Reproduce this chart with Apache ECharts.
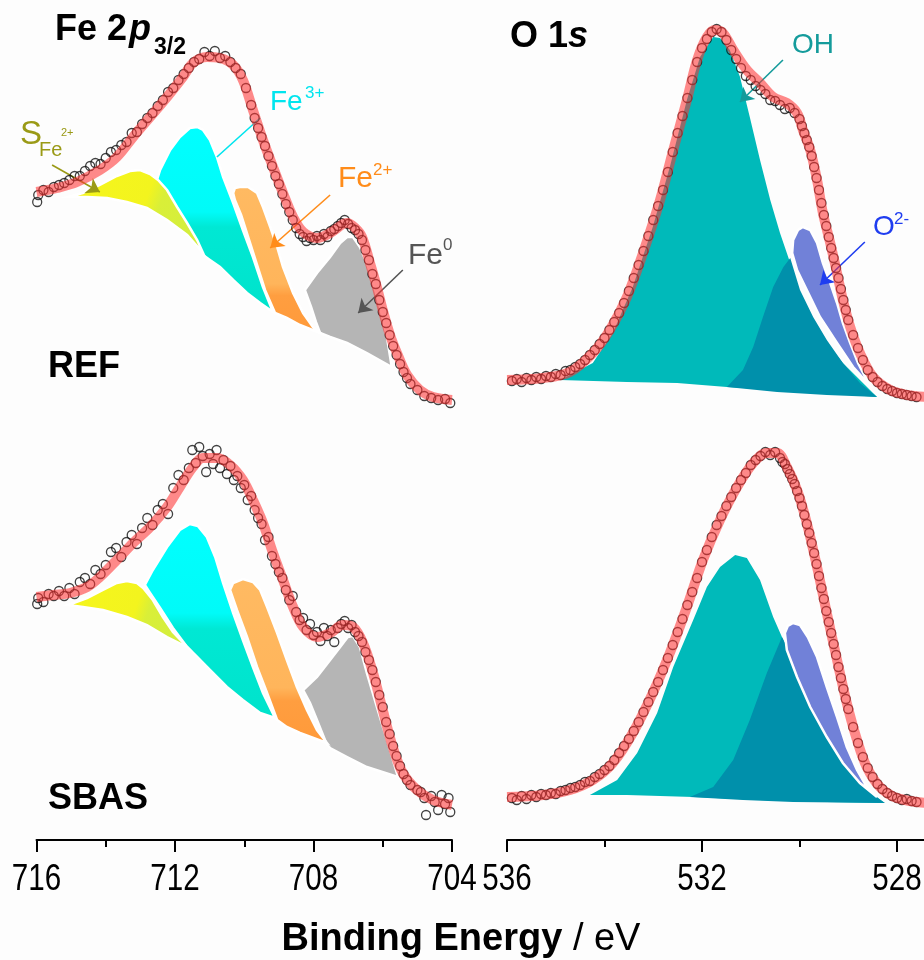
<!DOCTYPE html>
<html><head><meta charset="utf-8">
<script src="https://cdn.jsdelivr.net/npm/echarts@6/dist/echarts.min.js"></script>
<style>html,body{margin:0;padding:0;background:#fdfdfd}#c{width:924px;height:960px}</style>
</head><body><div id="c"></div>
<script>
// ---------- axes ----------
const feRange = [704, 716];      // Fe 2p binding energy range (eV)
const oRange = [524, 536];       // O 1s binding energy range (eV)
const tickStep = 4;
const feTickLabels = [716, 712, 708, 704];
const oTickLabels = [536, 532, 528];

// ---------- Fe 2p3/2, REF ----------
const feRefFit = [[716.0,648],[715.41,652],[714.83,658],[714.17,670],[713.68,683],[713.21,703],[712.72,723],[712.23,743],[711.77,763],[711.48,777],[711.08,783],[710.70,782],[710.32,775],[710.04,760],[709.75,730],[709.46,700],[709.17,673],[708.88,647],[708.59,623],[708.30,608],[707.90,602],[707.52,607],[707.15,616],[707.03,617],[706.80,612],[706.60,603],[706.37,577],[706.17,553],[706.0,530],[705.79,505],[705.59,487],[705.30,465],[704.93,450],[704.55,443],[704.0,440]];
const feRefData = [[715.98,638],[715.95,645],[715.8,650],[715.65,648],[715.5,653],[715.35,655],[715.2,657],[715.05,660],[714.9,664],[714.75,664],[714.6,669],[714.45,674],[714.3,677],[714.15,676],[714.0,682],[713.85,688],[713.7,690],[713.55,695],[713.4,698],[713.25,707],[713.1,708],[712.95,716],[712.8,722],[712.65,727],[712.5,734],[712.35,740],[712.2,748],[712.05,752],[711.9,760],[711.75,766],[711.6,772],[711.45,778],[711.3,781],[711.15,788],[711.0,784],[710.85,789],[710.7,782],[710.55,784],[710.4,778],[710.25,772],[710.1,766],[709.95,752],[709.8,735],[709.7,722],[709.6,712],[709.5,703],[709.4,694],[709.3,684],[709.2,674],[709.1,664],[709.0,656],[708.9,646],[708.8,636],[708.7,628],[708.6,620],[708.5,612],[708.4,606],[708.3,603],[708.2,599],[708.1,602],[708.0,600],[707.9,604],[707.8,600],[707.7,606],[707.6,603],[707.5,609],[707.4,611],[707.3,614],[707.2,617],[707.1,620],[707.0,616],[706.9,612],[706.8,610],[706.7,606],[706.6,600],[706.5,590],[706.4,580],[706.3,566],[706.2,556],[706.1,540],[706.0,528],[705.9,517],[705.8,505],[705.7,494],[705.6,485],[705.5,476],[705.4,468],[705.3,462],[705.2,456],[705.0,450],[704.8,444],[704.6,442],[704.4,440],[704.2,441],[704.05,437]];
const feRefSat = [[715.09,643],[714.66,647],[714.17,655],[713.68,664],[713.30,669],[713.01,670],[712.72,666],[712.49,660],[712.23,650],[711.94,633],[711.65,617],[711.36,600],[711.19,587],[711.65,605],[712.23,620],[712.81,632],[713.39,638],[713.96,642],[714.54,643]];
const feRefFe3 = [[712.52,660],[712.43,670],[712.14,690],[711.86,703],[711.57,712],[711.36,713],[711.19,710],[710.99,700],[710.79,683],[710.61,663],[710.32,637],[710.04,610],[709.75,583],[709.46,553],[709.17,528],[709.54,537],[709.92,547],[710.32,560],[710.70,573],[710.99,580],[711.19,585],[711.48,603],[711.86,627],[712.23,647]];
const feRefFe2 = [[710.32,647],[710.27,652],[710.13,653],[709.89,653],[709.63,647],[709.46,633],[709.25,613],[709.05,593],[708.88,573],[708.59,547],[708.30,527],[708.02,513],[707.81,507],[708.39,515],[708.77,522],[709.11,527],[709.40,550],[709.63,575],[709.86,600],[710.09,625],[710.27,640]];
const feRefFe0 = [[708.25,550],[707.90,567],[707.52,583],[707.23,597],[707.03,603],[706.86,603],[706.66,593],[706.46,577],[706.28,557],[706.08,533],[705.88,503],[705.74,473],[706.46,487],[707.03,497],[707.52,503],[707.81,507],[707.93,518],[708.07,533]];

// ---------- Fe 2p3/2, SBAS ----------
const feSbasFit = [[716.0,243],[715.52,245],[715.03,247],[714.54,253],[714.17,263],[713.68,280],[713.21,297],[712.72,313],[712.23,333],[711.86,353],[711.48,373],[711.19,382],[710.79,382],[710.41,375],[710.04,360],[709.75,340],[709.46,317],[709.17,287],[708.88,260],[708.59,233],[708.30,213],[707.90,203],[707.52,207],[707.15,215],[706.86,213],[706.57,197],[706.28,167],[706.0,130],[705.71,93],[705.42,67],[705.01,50],[704.55,40],[704.0,35]];
const feSbasData = [[715.98,236],[715.95,242],[715.8,238],[715.65,246],[715.5,244],[715.35,249],[715.2,244],[715.05,252],[714.9,246],[714.75,258],[714.6,262],[714.45,256],[714.3,270],[714.15,266],[714.0,275],[713.85,288],[713.7,292],[713.55,283],[713.4,298],[713.25,305],[713.1,296],[712.95,312],[712.8,322],[712.65,315],[712.5,330],[712.35,336],[712.2,326],[712.05,352],[711.9,365],[711.75,360],[711.6,372],[711.5,390],[711.4,377],[711.3,393],[711.2,384],[711.1,368],[711.0,386],[710.9,376],[710.8,390],[710.7,372],[710.6,380],[710.5,366],[710.4,374],[710.3,360],[710.2,364],[710.1,352],[710.0,355],[709.9,340],[709.8,344],[709.7,330],[709.6,322],[709.5,316],[709.4,300],[709.3,303],[709.2,284],[709.1,276],[709.0,268],[708.9,262],[708.8,250],[708.7,240],[708.6,244],[708.5,228],[708.4,220],[708.3,222],[708.2,210],[708.1,216],[708.0,205],[707.9,208],[707.8,199],[707.7,212],[707.6,204],[707.5,210],[707.4,198],[707.3,212],[707.2,216],[707.1,219],[707.0,212],[706.9,215],[706.8,208],[706.7,204],[706.6,198],[706.5,188],[706.4,180],[706.3,170],[706.2,158],[706.1,145],[706.0,133],[705.9,118],[705.8,106],[705.7,94],[705.6,84],[705.5,74],[705.4,66],[705.3,60],[705.2,55],[705.0,50],[704.9,48],[704.8,42],[704.75,25],[704.6,44],[704.5,38],[704.4,30],[704.3,45],[704.2,36],[704.1,42],[704.05,28]];
const feSbasSat = [[715.09,235],[714.54,242],[714.08,250],[713.68,257],[713.39,259],[713.10,257],[712.92,252],[712.64,240],[712.35,223],[712.06,208],[711.65,193],[712.23,203],[712.81,215],[713.39,223],[714.08,230],[714.66,233]];
const feSbasFe3 = [[712.87,255],[712.64,270],[712.23,293],[711.86,310],[711.57,316],[711.34,314],[711.08,303],[710.84,283],[710.61,257],[710.32,227],[710.04,200],[709.75,173],[709.46,147],[709.11,122],[709.54,127],[710.04,140],[710.50,153],[710.99,170],[711.36,183],[711.65,193],[712.06,212],[712.43,232],[712.72,247]];
const feSbasFe2 = [[710.41,250],[710.32,257],[710.04,261],[709.75,258],[709.54,250],[709.34,233],[709.05,207],[708.77,180],[708.48,153],[708.19,130],[707.90,110],[707.61,97],[708.39,107],[708.77,113],[709.05,120],[709.34,147],[709.63,173],[709.92,203],[710.21,230]];
const feSbasFe0 = [[708.30,150],[707.90,163],[707.52,180],[707.23,193],[707.01,203],[706.86,204],[706.66,193],[706.46,167],[706.17,133],[705.88,100],[705.56,63],[706.46,73],[707.03,83],[707.52,92],[707.61,95],[707.90,120],[708.10,137]];

// ---------- O 1s, REF ----------
const oRefFit = [[536.0,460],[535.26,462],[534.71,468],[534.24,487],[533.89,510],[533.54,543],[533.21,587],[532.86,640],[532.59,690],[532.31,740],[532.10,780],[531.90,803],[531.73,810],[531.57,807],[531.36,790],[531.08,770],[530.81,757],[530.54,743],[530.26,737],[530.05,727],[529.93,710],[529.78,690],[529.64,660],[529.52,627],[529.37,597],[529.23,567],[529.11,540],[528.96,513],[528.76,487],[528.49,463],[528.14,450],[527.79,445],[527.4,443]];
const oRefData = [[535.9,459],[535.8,461],[535.7,458],[535.6,462],[535.5,460],[535.4,463],[535.3,461],[535.2,464],[535.1,463],[535.0,466],[534.9,465],[534.8,469],[534.7,470],[534.6,473],[534.5,476],[534.4,480],[534.3,485],[534.2,490],[534.1,496],[534.0,502],[533.9,510],[533.8,518],[533.7,527],[533.6,537],[533.5,549],[533.4,562],[533.3,575],[533.2,589],[533.1,604],[533.0,620],[532.9,634],[532.8,650],[532.7,668],[532.6,688],[532.5,707],[532.4,724],[532.3,742],[532.2,760],[532.1,778],[532.0,792],[531.9,801],[531.8,808],[531.7,811],[531.6,808],[531.5,800],[531.4,790],[531.3,781],[531.2,772],[531.1,764],[531.0,760],[530.9,754],[530.8,750],[530.7,746],[530.6,740],[530.5,739],[530.4,735],[530.3,731],[530.2,732],[530.1,727],[530.0,721],[529.95,714],[529.9,707],[529.85,700],[529.8,693],[529.75,684],[529.7,673],[529.65,662],[529.6,650],[529.55,637],[529.5,625],[529.45,614],[529.4,603],[529.35,592],[529.3,582],[529.25,572],[529.2,562],[529.15,551],[529.1,540],[529.05,530],[529.0,520],[528.9,505],[528.8,492],[528.7,480],[528.6,470],[528.5,463],[528.4,458],[528.3,454],[528.2,451],[528.1,449],[528.0,447],[527.9,446],[527.8,445],[527.7,444],[527.6,443]];
const oRefOH = [[534.91,460],[534.24,477],[533.83,507],[533.42,553],[533.01,613],[532.66,673],[532.31,740],[532.04,783],[531.77,803],[531.63,802],[531.43,790],[531.22,763],[531.02,723],[530.81,680],[530.60,640],[530.40,607],[530.19,577],[529.99,547],[529.72,520],[529.44,497],[529.11,477],[528.76,460],[528.41,443],[529.44,447],[530.46,450],[531.49,453],[532.51,457],[533.54,458]];
const oRefOH2 = [[531.49,453],[531.16,470],[530.95,493],[530.75,523],[530.54,553],[530.33,573],[530.19,582],[529.99,550],[529.72,523],[529.44,500],[529.11,477],[528.76,457],[528.41,443],[529.44,445],[530.46,448]];
const oRefO2 = [[529.93,613],[529.78,610],[529.64,597],[529.52,577],[529.37,557],[529.23,537],[529.11,517],[528.96,497],[528.80,477],[528.62,460],[528.51,452],[528.90,473],[529.23,497],[529.58,523],[529.85,550],[530.05,570],[530.15,587],[530.13,600],[530.03,610]];

// ---------- O 1s, SBAS ----------
const oSbasFit = [[536.0,43],[535.26,45],[534.71,50],[534.24,60],[533.83,77],[533.42,107],[533.01,147],[532.66,187],[532.31,233],[531.98,280],[531.63,320],[531.28,353],[530.95,377],[530.67,387],[530.46,387],[530.26,373],[530.05,350],[529.85,317],[529.64,273],[529.44,227],[529.23,180],[529.03,137],[528.82,100],[528.62,73],[528.35,53],[528.0,42],[527.4,37]];
const oSbasData = [[535.9,42],[535.8,40],[535.7,44],[535.6,41],[535.5,45],[535.4,43],[535.3,46],[535.2,45],[535.1,47],[535.0,46],[534.9,49],[534.8,50],[534.7,52],[534.6,53],[534.5,55],[534.4,58],[534.3,59],[534.2,63],[534.1,66],[534.0,70],[533.9,74],[533.8,80],[533.7,87],[533.6,94],[533.5,101],[533.4,109],[533.3,118],[533.2,128],[533.1,138],[533.0,148],[532.9,158],[532.8,170],[532.7,182],[532.6,195],[532.5,208],[532.4,221],[532.3,235],[532.2,248],[532.1,262],[532.0,278],[531.9,290],[531.8,303],[531.7,315],[531.6,324],[531.5,334],[531.4,343],[531.3,352],[531.2,360],[531.1,367],[531.0,375],[530.9,380],[530.8,384],[530.7,388],[530.6,385],[530.5,388],[530.4,382],[530.35,378],[530.3,376],[530.25,371],[530.2,366],[530.15,361],[530.1,356],[530.05,349],[530.0,342],[529.95,334],[529.9,325],[529.85,316],[529.8,307],[529.75,297],[529.7,287],[529.65,276],[529.6,264],[529.55,252],[529.5,241],[529.45,229],[529.4,218],[529.35,207],[529.3,196],[529.25,185],[529.2,173],[529.15,162],[529.1,151],[529.05,141],[529.0,131],[528.9,113],[528.8,97],[528.7,83],[528.6,72],[528.5,63],[528.4,56],[528.3,51],[528.2,47],[528.1,44],[528.0,42],[527.9,40],[527.8,41],[527.7,39],[527.6,38]];
const oSbasOH = [[534.30,45],[533.74,60],[533.33,87],[532.92,127],[532.59,173],[532.18,220],[531.90,253],[531.63,273],[531.32,285],[531.08,282],[530.81,260],[530.54,223],[530.36,203],[530.13,180],[529.85,147],[529.58,117],[529.23,87],[528.90,63],[528.55,47],[528.25,37],[529.44,38],[530.81,40],[532.18,43],[533.54,45]];
const oSbasOH2 = [[532.25,43],[531.77,53],[531.36,80],[531.02,120],[530.67,167],[530.36,203],[530.13,180],[529.85,150],[529.58,120],[529.23,90],[528.90,67],[528.55,48],[528.25,37],[530.13,38],[531.16,40]];
const oSbasO2 = [[530.13,217],[529.99,215],[529.83,203],[529.64,183],[529.44,153],[529.23,123],[529.03,93],[528.82,70],[528.62,53],[528.41,43],[528.76,57],[529.11,77],[529.44,103],[529.78,133],[530.05,163],[530.26,190],[530.30,207],[530.24,214]];

// ---------- annotation arrows (start, end) ----------
const feArrows = [
  {from:[715.55,675], to:[714.17,648], color:'#9a9a16', head:true},
  {from:[709.54,722], to:[710.79,683], color:'#00e5ee', head:false},
  {from:[707.52,645], to:[709.25,592], color:'#ff8c1a', head:true},
  {from:[705.42,570], to:[706.71,527], color:'#555555', head:true}
];
const oArrows = [
  {from:[530.34,780], to:[531.22,738], color:'#149b9b', head:true},
  {from:[528.66,598], to:[529.58,555], color:'#1f3df0', head:true}
];

// ---------- build ----------
const FONT = 'Arial, "Liberation Sans", sans-serif';

function vgrad(stops){ return {type:'linear',x:0,y:0,x2:0,y2:1,colorStops:stops.map(s=>({offset:s[0],color:s[1]}))}; }
function dgrad(stops){ return {type:'linear',x:0,y:0,x2:1,y2:0.6,colorStops:stops.map(s=>({offset:s[0],color:s[1]}))}; }

const yellowFill = dgrad([[0,'#f6f61c'],[0.58,'#f3f41e'],[0.68,'#d9ef38'],[1,'#d3ee3e']]);
const cyanFill = vgrad([[0,'#00ffff'],[0.46,'#00fbf8'],[0.54,'#00e8d4'],[1,'#00e3cb']]);
const orangeFill = vgrad([[0,'#ffba62'],[0.66,'#ffb55b'],[0.74,'#ff9e40'],[1,'#ff9a3a']]);

function poly(pts, idx, fill, stroke, z){
  return {type:'custom', xAxisIndex:idx, yAxisIndex:idx, data:pts, z:z, silent:true, animation:false,
    renderItem:function(params, api){
      if(params.dataIndex!==0) return null;
      return {type:'polygon', shape:{points:pts.map(p=>api.coord(p))},
        style:{fill:fill, stroke:stroke||'#ffffff', lineWidth:stroke==='none'?0:2.5}};
    }};
}
function scatter(pts, idx){
  return {type:'scatter', xAxisIndex:idx, yAxisIndex:idx, data:pts, z:5, silent:true, symbol:'circle', symbolSize:9,
    itemStyle:{color:'rgba(0,0,0,0)', borderColor:'#111', borderWidth:1.3}};
}
function fit(pts, idx, arrows){
  const s = {type:'line', xAxisIndex:idx, yAxisIndex:idx, data:pts, z:6, silent:true, symbol:'none', smooth:0.35,
    lineStyle:{color:'rgba(255,50,50,0.57)', width:10}};
  if(arrows){
    s.markLine = {silent:true, animation:false, symbol:['none','arrow'], symbolSize:13, label:{show:false},
      emphasis:{disabled:true},
      data: arrows.map(a=>[
        {coord:a.from, symbol:'none', lineStyle:{color:a.color,width:1.6,type:'solid'}},
        {coord:a.to, symbol:a.head?'arrow':'none', lineStyle:{color:a.color,width:1.6,type:'solid'}}
      ])};
  }
  return s;
}
function txt(x, y, text, font, color){
  return {type:'text', x:x, y:y, z:100, silent:true, style:{text:text, font:font, fill:color, verticalAlign:'middle', align:'left'}};
}

const axisCommon = {
  type:'value', inverse:true, interval:tickStep, position:'bottom',
  axisLine:{show:true, onZero:false, lineStyle:{color:'#000', width:2}},
  axisTick:{show:true, inside:false, length:12, lineStyle:{color:'#000', width:2}},
  minorTick:{show:true, splitNumber:2, length:7, lineStyle:{color:'#000', width:2}},
  splitLine:{show:false}, minorSplitLine:{show:false},
  axisLabel:{show:false}
};

const texts = [
  txt(55,30,'Fe 2','bold 36px '+FONT,'#000'),
  txt(129,30,'p','italic bold 36px '+FONT,'#000'),
  txt(154,48,'3/2','bold 23px '+FONT,'#000'),
  txt(510,37,'O 1','bold 36px '+FONT,'#000'),
  txt(568,37,'s','italic bold 36px '+FONT,'#000'),
  txt(48,367,'REF','bold 36px '+FONT,'#000'),
  txt(48,799,'SBAS','bold 36px '+FONT,'#000'),
  txt(20,135,'S','33px '+FONT,'#9a9a16'),
  txt(39,150,'Fe','20px '+FONT,'#9a9a16'),
  txt(61,133,'2+','11px '+FONT,'#9a9a16'),
  txt(270,102,'Fe','28px '+FONT,'#00e5ee'),
  txt(305,93,'3+','17px '+FONT,'#00e5ee'),
  txt(338,179,'Fe','30px '+FONT,'#ff8c1a'),
  txt(373,170,'2+','17px '+FONT,'#ff8c1a'),
  txt(408,256,'Fe','30px '+FONT,'#555555'),
  txt(443,245,'0','17px '+FONT,'#555555'),
  txt(792,45,'OH','28px '+FONT,'#149b9b'),
  txt(873,227,'O','28px '+FONT,'#1f3df0'),
  txt(894,219,'2-','17px '+FONT,'#1f3df0'),
  {type:'text', x:461, y:940, z:100, silent:true, style:{
    text:'{a|Binding Energy}{b| / eV}', align:'center', verticalAlign:'middle',
    rich:{a:{font:'bold 38px '+FONT, fill:'#000'}, b:{font:'38px '+FONT, fill:'#000'}}}}
];

const option = {
  backgroundColor:'#fdfdfd',
  animation:false,
  grid:[
    {left:36.5, top:0, width:415.5, height:840, outerBoundsMode:'none', containLabel:false},
    {left:507, top:0, width:585, height:840, outerBoundsMode:'none', containLabel:false}
  ],
  xAxis:[
    Object.assign({}, axisCommon, {gridIndex:0, min:feRange[0], max:feRange[1]}),
    Object.assign({}, axisCommon, {gridIndex:1, min:oRange[0], max:oRange[1]})
  ],
  yAxis:[
    {type:'value', gridIndex:0, min:0, max:840, show:false},
    {type:'value', gridIndex:1, min:0, max:840, show:false}
  ],
  series:[
    poly(feRefFe0,0,'#b5b5b5',null,1), poly(feRefFe2,0,orangeFill,null,2), poly(feRefFe3,0,cyanFill,null,3), poly(feRefSat,0,yellowFill,null,4),
    poly(feSbasFe0,0,'#b5b5b5',null,1), poly(feSbasFe2,0,orangeFill,null,2), poly(feSbasFe3,0,cyanFill,null,3), poly(feSbasSat,0,yellowFill,null,4),
    poly(oRefOH,1,'#00baba','none',1), poly(oRefOH2,1,'#0090ab','none',2), poly(oRefO2,1,'#7181d8',null,3),
    poly(oSbasOH,1,'#00baba','none',1), poly(oSbasOH2,1,'#0090ab','none',2), poly(oSbasO2,1,'#7181d8',null,3),
    scatter(feRefData,0), scatter(feSbasData,0), scatter(oRefData,1), scatter(oSbasData,1),
    fit(feRefFit,0,feArrows), fit(feSbasFit,0,null), fit(oRefFit,1,oArrows), fit(oSbasFit,1,null)
  ],
  graphic: texts
};
const chart = echarts.init(document.getElementById('c'), null, {renderer:'canvas'});
chart.setOption(option);

// narrow tick labels placed through the axes' own scales
const tickEls = [];
function addTicks(values, axisIdx){
  values.forEach(v=>{
    const px = chart.convertToPixel({xAxisIndex:axisIdx}, v);
    tickEls.push({type:'text', x:px, y:880, scaleX:0.8, z:100, silent:true,
      style:{text:String(v), font:'37px '+FONT, fill:'#000', align:'center', verticalAlign:'middle'}});
  });
}
addTicks(feTickLabels, 0);
addTicks(oTickLabels, 1);
chart.setOption({graphic: texts.concat(tickEls)});
</script>
</body></html>
